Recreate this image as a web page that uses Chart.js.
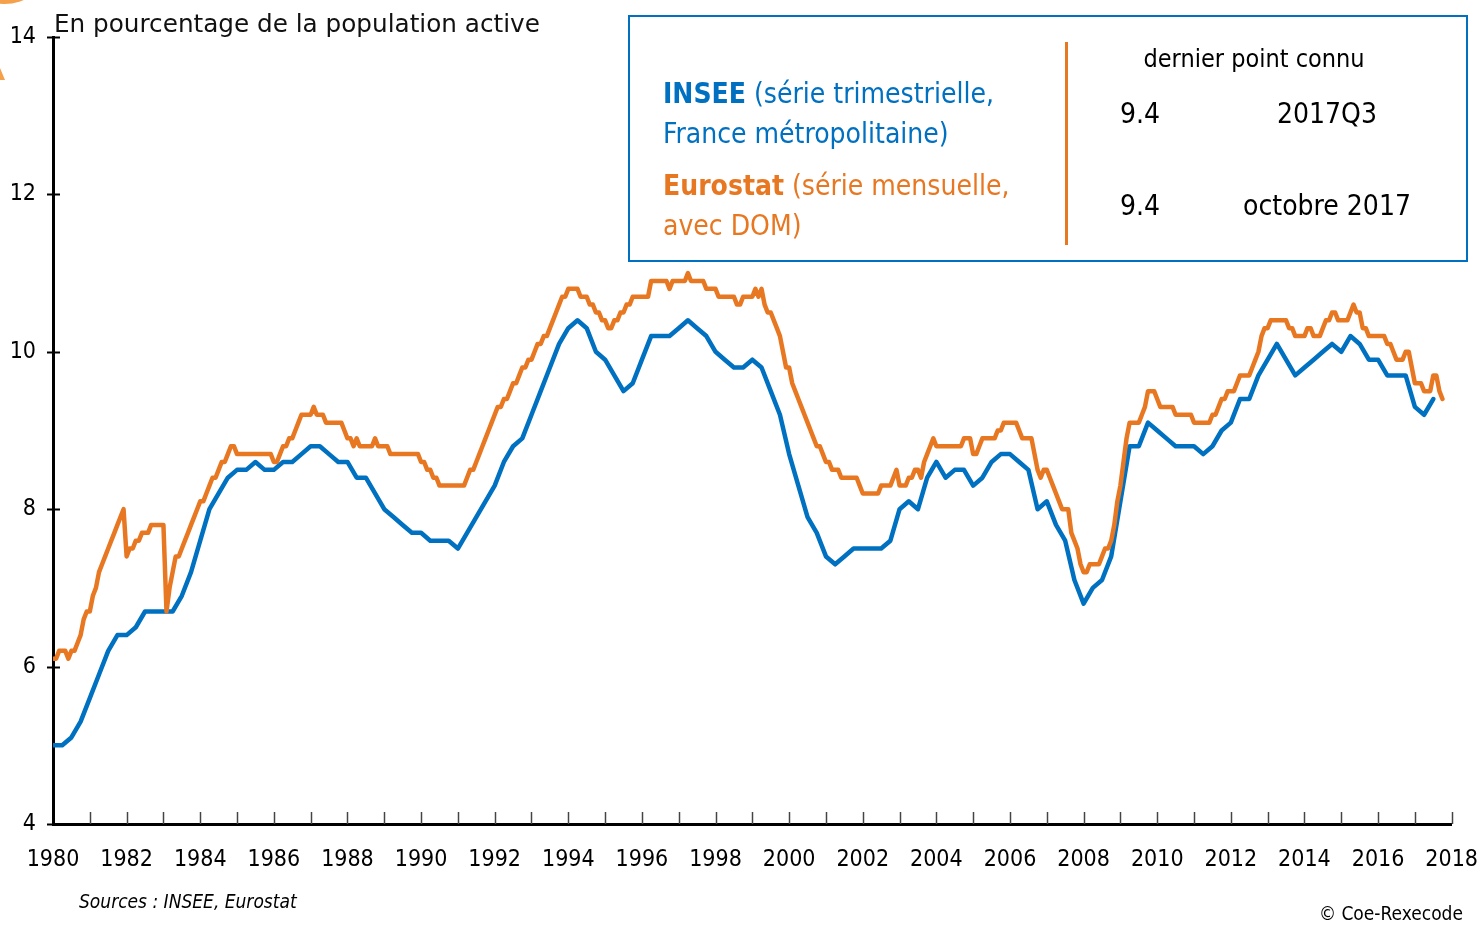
<!DOCTYPE html>
<html lang="fr">
<head>
<meta charset="utf-8">
<script src="https://cdn.jsdelivr.net/npm/chart.js@4.4.0/dist/chart.umd.min.js"></script>
<style>
  body { margin: 0; background: #fff; }
  #wrap { position: relative; width: 1480px; height: 931px; overflow: hidden; }
  #c { position: absolute; left: 0; top: 0; }
  .t { position: absolute; white-space: nowrap; line-height: 1; transform: translateY(-50%); }
  .narrow { font-family: "Liberation Sans Narrow", "DejaVu Sans Condensed", sans-serif; }
  .mid { transform: translate(-50%, -50%); }
  .right { transform: translate(-100%, -50%); }
  #box { position: absolute; left: 628px; top: 15px; width: 840px; height: 247px; box-sizing: border-box; border: 2px solid #0070C0; }
  #sep { position: absolute; left: 1065px; top: 42px; width: 3px; height: 203px; background: #E87722; }
  .blue { color: #0070C0; }
  .orange { color: #E87722; }
</style>
</head>
<body>
<div id="wrap">
  <canvas id="c" width="1480" height="931"></canvas>
  <div class="t" style="left:54px; top:24px; font-family:'DejaVu Sans'; font-size:24.7px; color:#111;">En pourcentage de la population active</div>

  <div id="box"></div>
  <div id="sep"></div>
  <div class="t narrow blue" style="left:663px; top:94px; font-size:28px;"><b>INSEE</b> (série trimestrielle,</div>
  <div class="t narrow blue" style="left:663px; top:134px; font-size:28px;">France métropolitaine)</div>
  <div class="t narrow orange" style="left:663px; top:186px; font-size:28px;"><b>Eurostat</b> (série mensuelle,</div>
  <div class="t narrow orange" style="left:663px; top:226px; font-size:28px;">avec DOM)</div>
  <div class="t narrow mid" style="left:1254px; top:58px; font-size:25px;">dernier point connu</div>
  <div class="t narrow" style="left:1120px; top:114px; font-size:28px;">9.4</div>
  <div class="t narrow mid" style="left:1327px; top:114px; font-size:28px;">2017Q3</div>
  <div class="t narrow" style="left:1120px; top:206px; font-size:28px;">9.4</div>
  <div class="t narrow mid" style="left:1327px; top:206px; font-size:28px;">octobre 2017</div>

  <div class="t narrow" style="left:79px; top:901px; font-size:19px; font-style:italic;">Sources : INSEE, Eurostat</div>
  <div class="t narrow right" style="left:1463px; top:913px; font-size:19px;">© Coe-Rexecode</div>
</div>

<script>
// Taux de chômage, en % de la population active
const startYear = 1980;
const yTicks = [4, 6, 8, 10, 12, 14];

// INSEE, série trimestrielle (1980T1 -> 2017T3)
const inseeQuarterly = [
  5.0, 5.0, 5.1, 5.3,   5.6, 5.9, 6.2, 6.4,   6.4, 6.5, 6.7, 6.7,   6.7, 6.7, 6.9, 7.2,
  7.6, 8.0, 8.2, 8.4,   8.5, 8.5, 8.6, 8.5,   8.5, 8.6, 8.6, 8.7,   8.8, 8.8, 8.7, 8.6,
  8.6, 8.4, 8.4, 8.2,   8.0, 7.9, 7.8, 7.7,   7.7, 7.6, 7.6, 7.6,   7.5, 7.7, 7.9, 8.1,
  8.3, 8.6, 8.8, 8.9,   9.2, 9.5, 9.8, 10.1,  10.3, 10.4, 10.3, 10.0, 9.9, 9.7, 9.5, 9.6,
  9.9, 10.2, 10.2, 10.2, 10.3, 10.4, 10.3, 10.2, 10.0, 9.9, 9.8, 9.8, 9.9, 9.8, 9.5, 9.2,
  8.7, 8.3, 7.9, 7.7,   7.4, 7.3, 7.4, 7.5,   7.5, 7.5, 7.5, 7.6,   8.0, 8.1, 8.0, 8.4,
  8.6, 8.4, 8.5, 8.5,   8.3, 8.4, 8.6, 8.7,   8.7, 8.6, 8.5, 8.0,   8.1, 7.8, 7.6, 7.1,
  6.8, 7.0, 7.1, 7.4,   8.1, 8.8, 8.8, 9.1,   9.0, 8.9, 8.8, 8.8,   8.8, 8.7, 8.8, 9.0,
  9.1, 9.4, 9.4, 9.7,   9.9, 10.1, 9.9, 9.7,  9.8, 9.9, 10.0, 10.1, 10.0, 10.2, 10.1, 9.9,
  9.9, 9.7, 9.7, 9.7,   9.3, 9.2, 9.4
];

// Eurostat, série mensuelle (janvier 1980 -> octobre 2017)
const eurostatMonthly = [
  6.1, 6.1, 6.2, 6.2, 6.2, 6.1, 6.2, 6.2, 6.3, 6.4, 6.6, 6.7,         // 1980
  6.7, 6.9, 7.0, 7.2, 7.3, 7.4, 7.5, 7.6, 7.7, 7.8, 7.9, 8.0,         // 1981
  7.4, 7.5, 7.5, 7.6, 7.6, 7.7, 7.7, 7.7, 7.8, 7.8, 7.8, 7.8,         // 1982
  7.8, 6.7, 7.0, 7.2, 7.4, 7.4, 7.5, 7.6, 7.7, 7.8, 7.9, 8.0,         // 1983
  8.1, 8.1, 8.2, 8.3, 8.4, 8.4, 8.5, 8.6, 8.6, 8.7, 8.8, 8.8,         // 1984
  8.7, 8.7, 8.7, 8.7, 8.7, 8.7, 8.7, 8.7, 8.7, 8.7, 8.7, 8.7,         // 1985
  8.6, 8.6, 8.7, 8.8, 8.8, 8.9, 8.9, 9.0, 9.1, 9.2, 9.2, 9.2,         // 1986
  9.2, 9.3, 9.2, 9.2, 9.2, 9.1, 9.1, 9.1, 9.1, 9.1, 9.1, 9.0,         // 1987
  8.9, 8.9, 8.8, 8.9, 8.8, 8.8, 8.8, 8.8, 8.8, 8.9, 8.8, 8.8,         // 1988
  8.8, 8.8, 8.7, 8.7, 8.7, 8.7, 8.7, 8.7, 8.7, 8.7, 8.7, 8.7,         // 1989
  8.6, 8.6, 8.5, 8.5, 8.4, 8.4, 8.3, 8.3, 8.3, 8.3, 8.3, 8.3,         // 1990
  8.3, 8.3, 8.3, 8.4, 8.5, 8.5, 8.6, 8.7, 8.8, 8.9, 9.0, 9.1,         // 1991
  9.2, 9.3, 9.3, 9.4, 9.4, 9.5, 9.6, 9.6, 9.7, 9.8, 9.8, 9.9,         // 1992
  9.9, 10.0, 10.1, 10.1, 10.2, 10.2, 10.3, 10.4, 10.5, 10.6, 10.7, 10.7, // 1993
  10.8, 10.8, 10.8, 10.8, 10.7, 10.7, 10.7, 10.6, 10.6, 10.5, 10.5, 10.4, // 1994
  10.4, 10.3, 10.3, 10.4, 10.4, 10.5, 10.5, 10.6, 10.6, 10.7, 10.7, 10.7, // 1995
  10.7, 10.7, 10.7, 10.9, 10.9, 10.9, 10.9, 10.9, 10.9, 10.8, 10.9, 10.9, // 1996
  10.9, 10.9, 10.9, 11.0, 10.9, 10.9, 10.9, 10.9, 10.9, 10.8, 10.8, 10.8, // 1997
  10.8, 10.7, 10.7, 10.7, 10.7, 10.7, 10.7, 10.6, 10.6, 10.7, 10.7, 10.7, // 1998
  10.7, 10.8, 10.7, 10.8, 10.6, 10.5, 10.5, 10.4, 10.3, 10.2, 10.0, 9.8,  // 1999
  9.8, 9.6, 9.5, 9.4, 9.3, 9.2, 9.1, 9.0, 8.9, 8.8, 8.8, 8.7,         // 2000
  8.6, 8.6, 8.5, 8.5, 8.5, 8.4, 8.4, 8.4, 8.4, 8.4, 8.4, 8.3,         // 2001
  8.2, 8.2, 8.2, 8.2, 8.2, 8.2, 8.3, 8.3, 8.3, 8.3, 8.4, 8.5,         // 2002
  8.3, 8.3, 8.3, 8.4, 8.4, 8.5, 8.5, 8.4, 8.6, 8.7, 8.8, 8.9,         // 2003
  8.8, 8.8, 8.8, 8.8, 8.8, 8.8, 8.8, 8.8, 8.8, 8.9, 8.9, 8.9,         // 2004
  8.7, 8.7, 8.8, 8.9, 8.9, 8.9, 8.9, 8.9, 9.0, 9.0, 9.1, 9.1,         // 2005
  9.1, 9.1, 9.1, 9.0, 8.9, 8.9, 8.9, 8.9, 8.7, 8.5, 8.4, 8.5,         // 2006
  8.5, 8.4, 8.3, 8.2, 8.1, 8.0, 8.0, 8.0, 7.7, 7.6, 7.5, 7.3,         // 2007
  7.2, 7.2, 7.3, 7.3, 7.3, 7.3, 7.4, 7.5, 7.5, 7.6, 7.8, 8.1,         // 2008
  8.3, 8.6, 8.9, 9.1, 9.1, 9.1, 9.1, 9.2, 9.3, 9.5, 9.5, 9.5,         // 2009
  9.4, 9.3, 9.3, 9.3, 9.3, 9.3, 9.2, 9.2, 9.2, 9.2, 9.2, 9.2,         // 2010
  9.1, 9.1, 9.1, 9.1, 9.1, 9.1, 9.2, 9.2, 9.3, 9.4, 9.4, 9.5,         // 2011
  9.5, 9.5, 9.6, 9.7, 9.7, 9.7, 9.7, 9.8, 9.9, 10.0, 10.2, 10.3,      // 2012
  10.3, 10.4, 10.4, 10.4, 10.4, 10.4, 10.4, 10.3, 10.3, 10.2, 10.2, 10.2, // 2013
  10.2, 10.3, 10.3, 10.2, 10.2, 10.2, 10.3, 10.4, 10.4, 10.5, 10.5, 10.4, // 2014
  10.4, 10.4, 10.4, 10.5, 10.6, 10.5, 10.5, 10.3, 10.3, 10.2, 10.2, 10.2, // 2015
  10.2, 10.2, 10.2, 10.1, 10.1, 10.0, 9.9, 9.9, 9.9, 10.0, 10.0, 9.8,     // 2016
  9.6, 9.6, 9.6, 9.5, 9.5, 9.5, 9.7, 9.7, 9.5, 9.4                        // 2017
];

const BLUE = "#0070C0";
const ORANGE = "#E87722";
const axisFont = { family: "'Liberation Sans Narrow', 'DejaVu Sans Condensed', sans-serif", size: 23 };

// petites graduations (années en x, croix sur l'axe y) + pastille orange du coin
const decoPlugin = {
  id: "deco",
  beforeDraw(chart) {
    const ctx = chart.ctx;
    ctx.save();
    ctx.fillStyle = "#F5A04A";
    ctx.beginPath();
    ctx.ellipse(4, -30, 42, 34, 0, 0, Math.PI * 2);
    ctx.fill();
    ctx.beginPath();
    ctx.moveTo(0, 68);
    ctx.lineTo(5, 80);
    ctx.lineTo(0, 80);
    ctx.closePath();
    ctx.fill();
    ctx.restore();
  },
  afterDraw(chart) {
    const ctx = chart.ctx;
    const x = chart.scales.x, y = chart.scales.y;
    const area = chart.chartArea;
    ctx.save();
    ctx.strokeStyle = "#000";
    ctx.lineWidth = 2;
    yTicks.forEach(v => {
      const py = Math.round(y.getPixelForValue(v)) + 0.5;
      ctx.beginPath();
      ctx.moveTo(area.left - 6, py);
      ctx.lineTo(area.left + 7, py);
      ctx.stroke();
    });
    ctx.strokeStyle = "#444";
    ctx.lineWidth = 1.5;
    for (let yr = startYear + 1; yr <= 2018; yr++) {
      const px = Math.round(x.getPixelForValue(yr)) + 0.5;
      ctx.beginPath();
      ctx.moveTo(px, area.bottom);
      ctx.lineTo(px, area.bottom - 12);
      ctx.stroke();
    }
    ctx.restore();
  }
};

document.addEventListener("DOMContentLoaded", function () {
  const inseeData = inseeQuarterly.map((v, i) => ({ x: startYear + i / 4, y: v }));
  const eurostatData = eurostatMonthly.map((v, i) => ({ x: startYear + i / 12, y: v }));

  new Chart(document.getElementById("c").getContext("2d"), {
    type: "line",
    data: {
      datasets: [
        {
          label: "Eurostat",
          data: eurostatData,
          borderColor: ORANGE,
          borderWidth: 4.5,
          pointRadius: 0,
          tension: 0,
          borderJoinStyle: "round",
          borderCapStyle: "round",
        },
        {
          label: "INSEE",
          data: inseeData,
          borderColor: BLUE,
          borderWidth: 4.5,
          pointRadius: 0,
          tension: 0,
          borderJoinStyle: "round",
          borderCapStyle: "round",
        },
      ],
    },
    options: {
      responsive: false,
      animation: false,
      devicePixelRatio: 1,
      layout: { padding: { left: 0, top: 37, right: 1, bottom: 0 } },
      plugins: { legend: { display: false }, tooltip: { enabled: false } },
      scales: {
        x: {
          type: "linear",
          min: 1980,
          max: 2018,
          // la longueur de graduation sert d'écart aux libellés (graduations dessinées à part)
          grid: { display: false, drawTicks: true, tickLength: 20 },
          border: { display: true, color: "#000", width: 3 },
          ticks: {
            stepSize: 2,
            autoSkip: false,
            maxRotation: 0,
            padding: 2,
            color: "#000",
            font: axisFont,
            callback: v => String(v),
          },
          afterFit: s => { s.height = 107; },
        },
        y: {
          min: 4,
          max: 14,
          grid: { display: false, drawTicks: false },
          border: { display: true, color: "#000", width: 3 },
          ticks: {
            stepSize: 2,
            padding: 17,
            color: "#000",
            font: axisFont,
          },
          afterFit: s => { s.width = 53; },
        },
      },
    },
    plugins: [decoPlugin],
  });
});
</script>
</body>
</html>
